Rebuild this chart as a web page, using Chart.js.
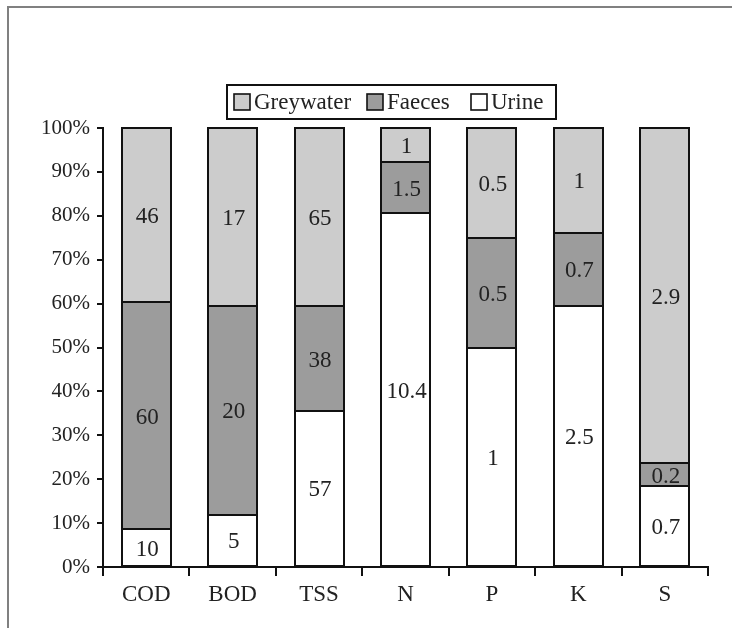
<!DOCTYPE html>
<html>
<head>
<meta charset="utf-8">
<script src="https://cdn.jsdelivr.net/npm/chart.js@4/dist/chart.umd.min.js"></script>
<style>
  html, body { margin: 0; padding: 0; background: #fff; }
  #wrap { position: relative; width: 732px; height: 628px; overflow: hidden; }
  #frame {
    position: absolute; left: 7px; top: 6px; right: -10px; bottom: -10px;
    border-top: 2px solid #808080; border-left: 2px solid #808080;
    pointer-events: none;
  }
  canvas { display: block; }
</style>
</head>
<body>
<div id="wrap">
  <canvas id="c" width="732" height="628"></canvas>
  <div id="frame"></div>
</div>
<script>
// Parameters and their daily loads split by source
const categories = ['COD', 'BOD', 'TSS', 'N', 'P', 'K', 'S'];
const urine      = [10, 5, 57, 10.4, 1, 2.5, 0.7];
const faeces     = [60, 20, 38, 1.5, 0.5, 0.7, 0.2];
const greywater  = [46, 17, 65, 1, 0.5, 1, 2.9];
const yTicks     = [0, 10, 20, 30, 40, 50, 60, 70, 80, 90, 100];

const FONT = '"Liberation Serif", "Times New Roman", serif';

// Share of each source in the per-parameter total (percent)
const totals = categories.map((_, i) => urine[i] + faeces[i] + greywater[i]);
const share = arr => arr.map((v, i) => v / totals[i] * 100);

const series = [
  { label: 'Urine',     raw: urine,     color: '#ffffff' },
  { label: 'Faeces',    raw: faeces,    color: '#9c9c9c' },
  { label: 'Greywater', raw: greywater, color: '#cccccc' }
];

// Outline every segment with a centred 2px stroke so shared edges coincide,
// then print the raw load in the middle of each segment
const segmentOutlineAndLabels = {
  id: 'segmentOutlineAndLabels',
  afterDatasetsDraw(chart) {
    const ctx = chart.ctx;
    ctx.save();
    ctx.lineWidth = 2;
    ctx.strokeStyle = '#111';
    chart.data.datasets.forEach((ds, di) => {
      chart.getDatasetMeta(di).data.forEach(bar => {
        const left = Math.round(bar.x - bar.width / 2);
        const right = Math.round(bar.x + bar.width / 2);
        const top = Math.round(bar.y);
        const bottom = Math.round(bar.base);
        ctx.strokeRect(left, top, right - left, bottom - top);
      });
    });
    ctx.font = '23px ' + FONT;
    ctx.fillStyle = '#222';
    ctx.textAlign = 'center';
    ctx.textBaseline = 'middle';
    chart.data.datasets.forEach((ds, di) => {
      chart.getDatasetMeta(di).data.forEach((bar, i) => {
        const y = (bar.y + bar.base) / 2;
        ctx.fillText(String(ds.raw[i]), bar.x + 1, y + 2);
      });
    });
    ctx.restore();
  }
};

// Boxed legend above the plot
const boxedLegend = {
  id: 'boxedLegend',
  afterDraw(chart, args, opts) {
    const ctx = chart.ctx;
    ctx.save();
    ctx.lineWidth = 2;
    ctx.strokeStyle = '#111';
    ctx.strokeRect(opts.x, opts.y, opts.w, opts.h);
    ctx.font = '23px ' + FONT;
    ctx.textBaseline = 'middle';
    ctx.textAlign = 'left';
    const cy = opts.y + opts.h / 2;
    opts.items.forEach(it => {
      const ds = chart.data.datasets.find(d => d.label === it.label);
      ctx.fillStyle = ds.backgroundColor;
      ctx.fillRect(it.x, cy - 8, 16, 16);
      ctx.lineWidth = 1.6;
      ctx.strokeStyle = '#111';
      ctx.strokeRect(it.x, cy - 8, 16, 16);
      ctx.fillStyle = '#222';
      ctx.fillText(it.label, it.x + 20, cy + 1);
    });
    ctx.restore();
  }
};

new Chart(document.getElementById('c'), {
  type: 'bar',
  data: {
    labels: categories,
    datasets: series.map(s => ({
      label: s.label,
      raw: s.raw,
      data: share(s.raw),
      backgroundColor: s.color,
      borderWidth: 0,
      barPercentage: 0.567,
      categoryPercentage: 1.0
    }))
  },
  options: {
    responsive: false,
    animation: false,
    layout: { padding: { top: 128, right: 24, bottom: 0, left: 0 } },
    plugins: {
      legend: { display: false },
      tooltip: { enabled: false },
      boxedLegend: {
        x: 227, y: 85, w: 329, h: 34,
        items: [
          { label: 'Greywater', x: 234 },
          { label: 'Faeces',    x: 367 },
          { label: 'Urine',     x: 471 }
        ]
      }
    },
    scales: {
      x: {
        stacked: true,
        offset: true,
        afterFit(scale) { scale.height = 61; },
        border: { color: '#111', width: 2 },
        grid: {
          display: true, offset: true, drawOnChartArea: false,
          drawTicks: true, tickLength: 9, color: '#111', lineWidth: 2
        },
        ticks: {
          padding: 5,
          color: '#222',
          font: { family: FONT, size: 23 }
        }
      },
      y: {
        stacked: true,
        min: 0, max: 100,
        afterFit(scale) { scale.width = 103; },
        afterBuildTicks(scale) { scale.ticks = yTicks.map(v => ({ value: v })); },
        border: { color: '#111', width: 2 },
        grid: {
          display: true, drawOnChartArea: false,
          drawTicks: true, tickLength: 6, color: '#111', lineWidth: 2
        },
        ticks: {
          padding: 7,
          color: '#222',
          font: { family: FONT, size: 21 },
          callback: v => v + '%'
        }
      }
    }
  },
  plugins: [segmentOutlineAndLabels, boxedLegend]
});
</script>
</body>
</html>
